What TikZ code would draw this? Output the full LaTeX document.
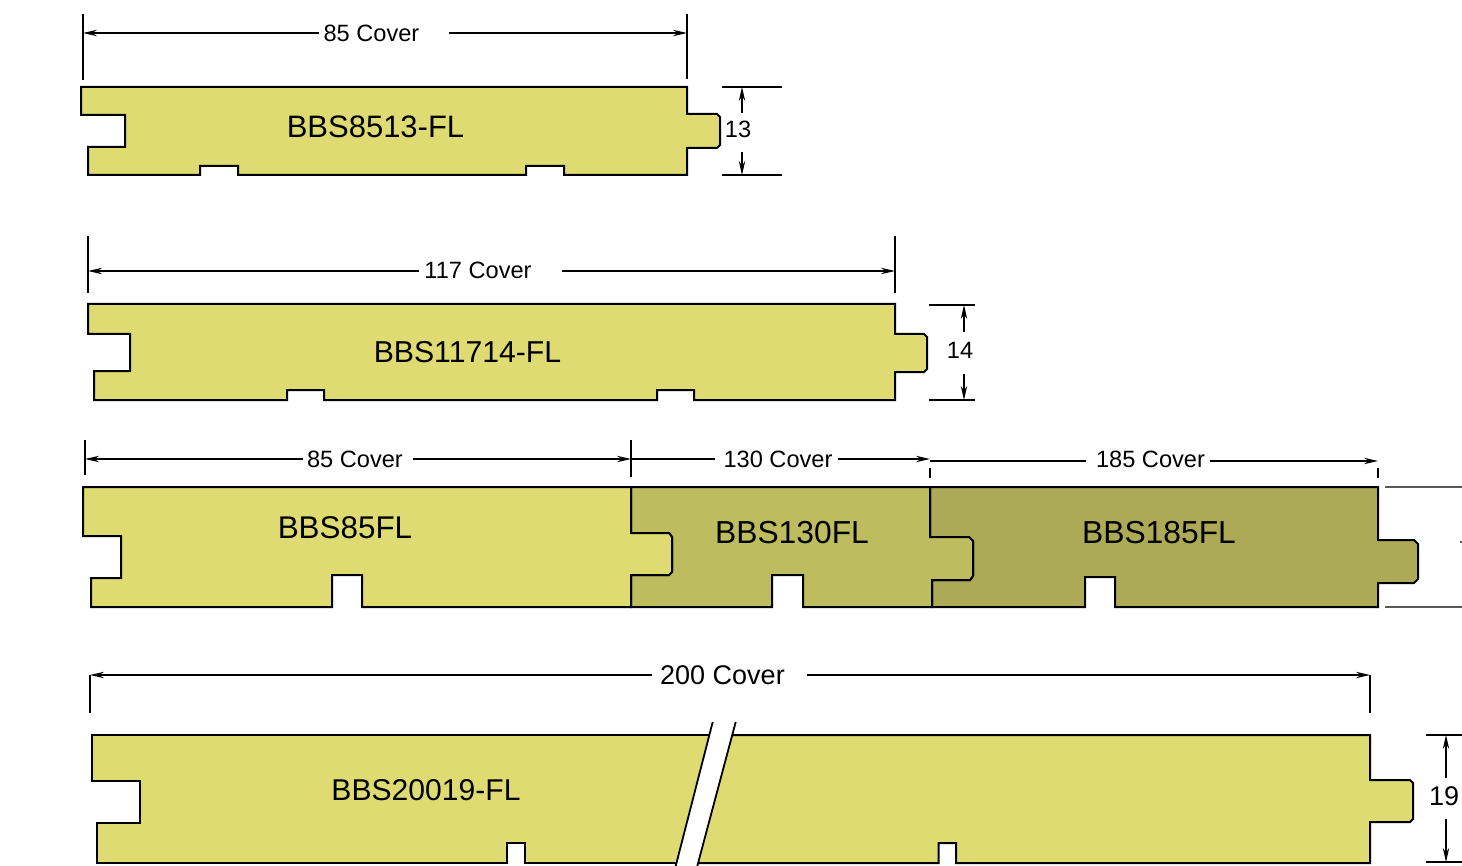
\documentclass[tikz,border=0pt]{standalone}
\usepackage{fontspec}
\setmainfont{Liberation Sans}
\usetikzlibrary{arrows.meta}
\definecolor{boardlight}{HTML}{DDDB71}
\definecolor{boardmid}{HTML}{BDBC5F}
\definecolor{boarddark}{HTML}{ACAA57}
\tikzset{
  board/.style={draw=black,line width=1pt,line join=miter},
  thinline/.style={black,line width=0.7pt},
  dimline/.style={thinline,-{Stealth[length=7pt,width=3.2pt]}},
  greyline/.style={black!65,line width=0.8pt},
  boardlabel/.style={inner sep=0pt,font=\fontsize{#1}{18}\selectfont},
  boardlabel/.default=15.5,
  dimlabel/.style={inner sep=0pt,font=\fontsize{#1}{14}\selectfont},
  dimlabel/.default=11.8
}
\begin{document}
\begin{tikzpicture}[x=0.5pt,y=-0.5pt]
       \useasboundingbox (0,0) rectangle (1462,866);
       \begin{scope}
        \draw[board,fill=boardlight] (81,87) -- (81,115) -- (125,115) -- (125,147) -- (88,147) -- (88,175) -- (200,175) -- (200,166) -- (238,166) -- (238,175) -- (526,175) -- (526,166) -- (564,166) -- (564,175) -- (687,175) -- (687,148) -- (717,148) -- (720,145) -- (720,117) -- (717,114) -- (687,114) -- (687,87) -- cycle;
        \node[boardlabel] (name8513) at (375.5,127) {BBS8513-FL};
        \node[dimlabel] (cover85a) at (371.5,33) {85 Cover};
        \node[dimlabel] (thick13) at (738,129) {13};
        \coordinate (a85l) at (83,33);
        \coordinate (a85r) at (687,33);
        \coordinate (a85m) at (319,33);
        \coordinate (a85n) at (449,33);
        \draw[thinline] (83,14) -- (83,80);
        \draw[thinline] (687,14) -- (687,79);
        \draw[dimline] (a85m) -- (a85l);
        \draw[dimline] (a85n) -- (a85r);
        \draw[thinline] (722,87) -- (782,87);
        \draw[thinline] (722,175) -- (782,175);
        \draw[dimline] (742,113) -- (742,87);
        \draw[dimline] (742,152) -- (742,175);
       \end{scope}
       \begin{scope}
        \draw[board,fill=boardlight] (88,304) -- (88,334) -- (130,334) -- (130,371) -- (94,371) -- (94,400) -- (287,400) -- (287,390) -- (324,390) -- (324,400) -- (657,400) -- (657,390) -- (694,390) -- (694,400) -- (895,400) -- (895,372) -- (924,372) -- (927,369) -- (927,337) -- (924,334) -- (895,334) -- (895,304) -- cycle;
        \draw[black,line width=1.3pt] (94,400) -- (137,400);
        \node[boardlabel=15.1] (name11714) at (467.5,352) {BBS11714-FL};
        \node[dimlabel] (cover117) at (478,270) {117 Cover};
        \node[dimlabel] (thick14) at (960,350) {14};
        \coordinate (a117l) at (88,271);
        \coordinate (a117r) at (895,271);
        \coordinate (a117m) at (419,271);
        \coordinate (a117n) at (562,271);
        \draw[thinline] (88,236) -- (88,293);
        \draw[thinline] (895,236) -- (895,293);
        \draw[dimline] (a117m) -- (a117l);
        \draw[dimline] (a117n) -- (a117r);
        \draw[thinline] (929,305) -- (975,305);
        \draw[thinline] (929,400) -- (975,400);
        \draw[dimline] (964,332) -- (964,305);
        \draw[dimline] (964,374) -- (964,400);
       \end{scope}
       \begin{scope}
        \draw[board,fill=boarddark] (930,487) -- (1378,487) -- (1378,540) -- (1414,540) -- (1418,544) -- (1418,579) -- (1414,583) -- (1378,583) -- (1378,607) -- (1115,607) -- (1115,577) -- (1085,577) -- (1085,607) -- (932,607) -- (932,580) -- (970,580) -- (973,576) -- (973,541) -- (969,537) -- (930,537) -- cycle;
        \draw[board,fill=boardmid] (631,487) -- (930,487) -- (930,537) -- (969,537) -- (973,541) -- (973,576) -- (970,580) -- (932,580) -- (932,607) -- (803,607) -- (803,575) -- (772,575) -- (772,607) -- (631,607) -- (631,575) -- (669,575) -- (672,572) -- (672,537) -- (669,533) -- (631,533) -- cycle;
        \draw[board,fill=boardlight] (83,487) -- (631,487) -- (631,533) -- (669,533) -- (672,537) -- (672,572) -- (669,575) -- (631,575) -- (631,607) -- (362,607) -- (362,575) -- (332,575) -- (332,607) -- (91,607) -- (91,578) -- (121,578) -- (121,536) -- (83,536) -- cycle;
        \node[boardlabel=15.7] (name85) at (345,528) {BBS85FL};
        \node[boardlabel=15.9] (name130) at (792,533) {BBS130FL};
        \node[boardlabel=15.9] (name185) at (1159,533) {BBS185FL};
        \node[dimlabel] (cover85b) at (355,459) {85 Cover};
        \node[dimlabel] (cover130) at (778,459) {130 Cover};
        \node[dimlabel] (cover185) at (1150.5,459) {185 Cover};
        \coordinate (b85l) at (85,459);
        \coordinate (b85r) at (631,459);
        \coordinate (b130r) at (930,459);
        \coordinate (b185l) at (930,461);
        \coordinate (b185r) at (1378,461);
        \draw[thinline] (85,440) -- (85,475);
        \draw[thinline] (631,440) -- (631,477);
        \draw[thinline] (930,468) -- (930,478);
        \draw[thinline] (1378,468) -- (1378,478);
        \draw[dimline] (303,459) -- (b85l);
        \draw[dimline] (413,459) -- (b85r);
        \draw[thinline] (b85r) -- (715,459);
        \draw[dimline] (838,459) -- (b130r);
        \draw[thinline] (b185l) -- (1086,461);
        \draw[dimline] (1210,461) -- (b185r);
        \draw[greyline] (1385,487) -- (1462,487);
        \draw[greyline] (1385,607) -- (1462,607);
        \draw[greyline] (1460,542) -- (1462,542);
       \end{scope}
       \begin{scope}
        \draw[board,fill=boardlight] (709.5,735) -- (92,735) -- (92,781) -- (140,781) -- (140,823) -- (97,823) -- (97,863) -- (507,863) -- (507,843) -- (525,843) -- (525,863) -- (676.5,863);
        \draw[board,fill=boardlight] (732,735) -- (1370,735) -- (1370,780) -- (1410,780) -- (1413,783) -- (1413,819) -- (1410,822) -- (1370,822) -- (1370,863) -- (956,863) -- (956,843) -- (938.5,843) -- (938.5,863) -- (698,863);
        \draw[black,line width=0.9pt] (712.7,722) -- (675.7,866);
        \draw[black,line width=0.9pt] (735.7,722) -- (697.3,866);
        \node[boardlabel=15.05] (name20019) at (426,790) {BBS20019-FL};
        \node[dimlabel=13.5] (cover200) at (722.5,675) {200 Cover};
        \node[dimlabel=13.5] (thick19) at (1444,796) {19};
        \coordinate (c200l) at (90,675);
        \coordinate (c200r) at (1370,675);
        \draw[thinline] (90,675) -- (90,713);
        \draw[thinline] (1370,675) -- (1370,713);
        \draw[dimline] (652,675) -- (c200l);
        \draw[dimline] (807,675) -- (c200r);
        \draw[thinline] (1426,735) -- (1462,735);
        \draw[thinline] (1426,862) -- (1462,862);
        \draw[dimline] (1446,778) -- (1446,735);
        \draw[dimline] (1446,819) -- (1446,862);
       \end{scope}
      \end{tikzpicture}
\end{document}
